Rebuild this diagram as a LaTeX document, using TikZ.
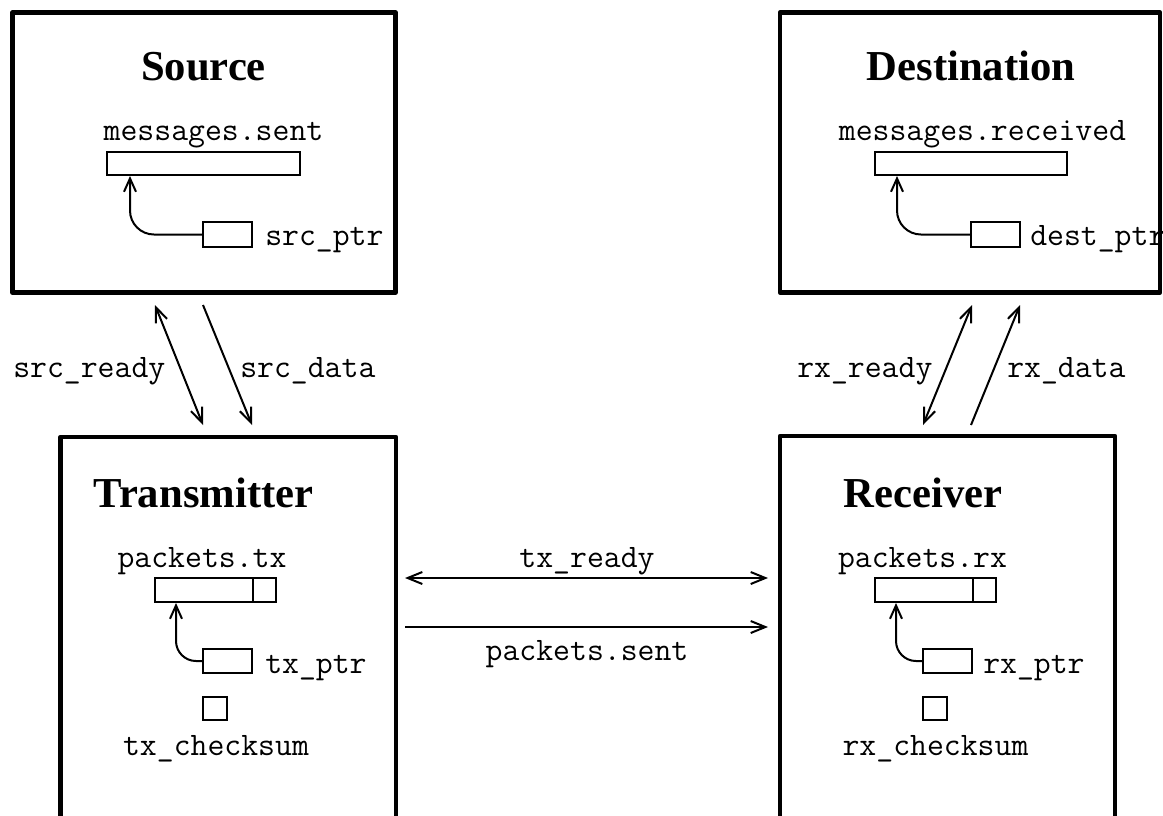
\documentclass[tikz,border=0pt]{standalone}
\usepackage{fontspec}
\setmainfont{Liberation Serif}
\usetikzlibrary{arrows.meta}
\begin{document}
\begin{tikzpicture}[x=0.75pt,y=-0.75pt,
  bigbox/.style={draw, line width=3.5pt, line join=round, inner sep=0pt},
  cell/.style={draw, line width=1.5pt, inner sep=0pt},
  title/.style={font=\fontsize{32}{36}\selectfont\bfseries, inner sep=0pt, anchor=base},
  mono/.style={font=\ttfamily\fontsize{24.6}{28}\selectfont, inner sep=0pt, anchor=base},
  monol/.style={mono, anchor=base west},
  conn/.style={line width=1.5pt, arrows={-Straight Barb[length=11pt,width=9pt]}},
  bconn/.style={line width=1.5pt, arrows={Straight Barb[length=11pt,width=9pt]-Straight Barb[length=11pt,width=9pt]}},
  ptr/.style={line width=1.5pt, rounded corners=18pt, arrows={-Straight Barb[length=10pt,width=9pt]}}]
\useasboundingbox (0,0) rectangle (1163,815);
\clip (0,0) rectangle (1163,815);
% big boxes
\node[bigbox, minimum width=287.25pt, minimum height=210pt] (src) at (204,152.5) {};
\node[bigbox, minimum width=285pt, minimum height=210pt] (dst) at (970,152.5) {};
\node[bigbox, minimum width=251.6pt, minimum height=324.75pt] (tx) at (228.25,653.5) {};
\node[bigbox, minimum width=251.25pt, minimum height=325.5pt] (rx) at (947.5,653) {};
% titles
\node[title] (tsrc) at (203.5,80) {Source};
\node[title] (tdst) at (971,80) {Destination};
\node[title] (ttx) at (203.5,507) {Transmitter};
\node[title] (trx) at (923,507) {Receiver};
% source internals
\node[mono] (lmsent) at (213.5,140) {messages.sent};
\node[cell, minimum width=144.75pt, minimum height=17.25pt] (msent) at (203.5,163.5) {};
\node[cell, minimum width=36.75pt, minimum height=18.75pt] (srcptr) at (227.5,234.5) {};
\node[monol] (lsrcptr) at (265,245) {src\_ptr};
\draw[ptr] (srcptr.west) -| ([xshift=18pt]msent.south west);
% destination internals
\node[mono] (lmrecv) at (982.5,140) {messages.received};
\node[cell, minimum width=144pt, minimum height=17.25pt] (mrecv) at (971,163.5) {};
\node[cell, minimum width=36.75pt, minimum height=18.75pt] (dstptr) at (995.5,234.5) {};
\node[monol] (ldstptr) at (1030,245) {dest\_ptr};
\draw[ptr] (dstptr.west) -| ([xshift=17.25pt]mrecv.south west);
% transmitter internals
\node[mono] (lptx) at (202,567) {packets.tx};
\node[cell, minimum width=90.75pt, minimum height=18pt] (ptx) at (215.5,590) {};
\draw[line width=1.5pt] ([xshift=-18pt]ptx.north east) -- ([xshift=-18pt]ptx.south east);
\node[cell, minimum width=36.75pt, minimum height=18pt] (txptr) at (227.5,661) {};
\node[monol] (ltxptr) at (265,673) {tx\_ptr};
\draw[ptr, rounded corners=15pt] (txptr.west) -| ([xshift=16.5pt]ptx.south west);
\node[cell, minimum width=18pt, minimum height=17.25pt] (txcs) at (215,708.5) {};
\node[mono] (ltxcs) at (216,755) {tx\_checksum};
% receiver internals
\node[mono] (lprx) at (922.5,567) {packets.rx};
\node[cell, minimum width=90.75pt, minimum height=18pt] (prx) at (935.5,590) {};
\draw[line width=1.5pt] ([xshift=-18pt]prx.north east) -- ([xshift=-18pt]prx.south east);
\node[cell, minimum width=36.75pt, minimum height=18pt] (rxptr) at (947.5,661) {};
\node[monol] (lrxptr) at (983,673) {rx\_ptr};
\draw[ptr, rounded corners=15pt] (rxptr.west) -| ([xshift=16.5pt]prx.south west);
\node[cell, minimum width=18pt, minimum height=17.25pt] (rxcs) at (935,708.5) {};
\node[mono] (lrxcs) at (935.5,755) {rx\_checksum};
% inter-box connector end points
\coordinate (sr1) at (155,305); \coordinate (sr2) at (203,425);
\coordinate (sd1) at (203,305); \coordinate (sd2) at (252,425);
\coordinate (rr1) at (923,425); \coordinate (rr2) at (972,305);
\coordinate (rd1) at (971,425); \coordinate (rd2) at (1020,305);
\coordinate (tr1) at (405,578); \coordinate (tr2) at (768,578);
\coordinate (ps1) at (405,627); \coordinate (ps2) at (768,627);
\draw[bconn] (sr1) -- (sr2);
\draw[conn] (sd1) -- (sd2);
\draw[bconn] (rr1) -- (rr2);
\draw[conn] (rd1) -- (rd2);
\draw[bconn] (tr1) -- (tr2);
\draw[conn] (ps1) -- (ps2);
% connector labels
\node[monol] (lsr) at (13,377) {src\_ready};
\node[monol] (lsd) at (240,377) {src\_data};
\node[monol] (lrr) at (797,377) {rx\_ready};
\node[monol] (lrd) at (1007,377) {rx\_data};
\node[mono] (ltr) at (587,567) {tx\_ready};
\node[mono] (lps) at (587,660) {packets.sent};
\end{tikzpicture}
\end{document}
